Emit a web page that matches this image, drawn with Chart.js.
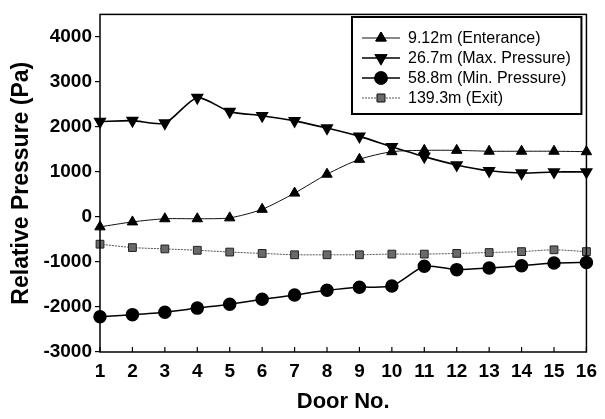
<!DOCTYPE html>
<html lang="en">
<head>
    <meta charset="UTF-8">
    <title>Relative Pressure by Door</title>
    <script src="https://cdn.jsdelivr.net/npm/chart.js"></script>
    <style>
        body {
            margin: 0;
            padding: 0;
            background: #fff;
        }
        .chart-container {
            width: 605px;
            height: 419px;
            position: relative;
        }
    </style>
</head>
<body>
    <div class="chart-container">
        <canvas id="pressureChart"></canvas>
    </div>

    <script>
        // Door numbers on the x axis
        const doors = ['1', '2', '3', '4', '5', '6', '7', '8', '9', '10', '11', '12', '13', '14', '15', '16'];

        // Relative pressure (Pa)
        const entrance = [-220, -110, -40, -40, -20, 170, 530, 950, 1280, 1450, 1480, 1480, 1460, 1460, 1460, 1450];
        const maxPressure = [2120, 2140, 2085, 2650, 2340, 2250, 2135, 1975, 1790, 1560, 1340, 1155, 1025, 975, 1000, 1000];
        const minPressure = [-2215, -2170, -2115, -2025, -1940, -1830, -1735, -1630, -1560, -1535, -1095, -1170, -1135, -1085, -1025, -1010];
        const exitPressure = [-605, -680, -710, -740, -780, -810, -840, -840, -840, -825, -825, -810, -790, -770, -730, -770];

        const seriesLabels = ['9.12m (Enterance)', '26.7m (Max. Pressure)', '58.8m (Min. Pressure)', '139.3m (Exit)'];
        const yTickValues = [-3000, -2000, -1000, 0, 1000, 2000, 3000, 4000];

        const fontFamily = '"Liberation Sans", Arial, sans-serif';

        // Frame around the plot, inward x ticks and the boxed legend
        const framePlugin = {
            id: 'frame',
            afterDraw(chart) {
                const ctx = chart.ctx;
                const area = chart.chartArea;
                const xScale = chart.scales.x;

                ctx.save();
                ctx.strokeStyle = '#000';
                ctx.lineWidth = 1.5;
                ctx.strokeRect(area.left, area.top, area.right - area.left, area.bottom - area.top);

                // x ticks pointing up into the plot
                ctx.lineWidth = 1.2;
                doors.forEach((d, i) => {
                    const x = xScale.getPixelForValue(i);
                    ctx.beginPath();
                    ctx.moveTo(x, area.bottom);
                    ctx.lineTo(x, area.bottom - 5);
                    ctx.stroke();
                });

                // legend
                const boxLeft = 352, boxTop = 17, boxRight = area.right - 5, boxBottom = 114;
                ctx.lineWidth = 2;
                ctx.strokeRect(boxLeft, boxTop, boxRight - boxLeft, boxBottom - boxTop);

                chart.data.datasets.forEach((ds, i) => {
                    const y = 38 + i * 20;
                    ctx.strokeStyle = ds.borderColor;
                    ctx.lineWidth = ds.borderWidth;
                    ctx.setLineDash(ds.borderDash || []);
                    ctx.beginPath();
                    ctx.moveTo(362, y);
                    ctx.lineTo(400, y);
                    ctx.stroke();
                    ctx.setLineDash([]);

                    Chart.helpers.drawPoint(ctx, {
                        pointStyle: ds.pointStyle,
                        rotation: ds.pointRotation || 0,
                        radius: ds.pointRadius,
                        borderWidth: 1
                    }, 381, y);
                    ctx.fillStyle = ds.pointBackgroundColor;
                    ctx.strokeStyle = ds.pointBorderColor;
                    ctx.fill();
                    ctx.stroke();

                    ctx.fillStyle = '#000';
                    ctx.font = '16px ' + fontFamily;
                    ctx.textBaseline = 'middle';
                    ctx.textAlign = 'left';
                    ctx.fillText(ds.label, 408, y + 1);
                });
                ctx.restore();
            }
        };

        const ctx = document.getElementById('pressureChart').getContext('2d');
        const pressureChart = new Chart(ctx, {
            type: 'line',
            data: {
                labels: doors,
                datasets: [
                    {
                        label: seriesLabels[0],
                        data: entrance,
                        borderColor: '#111',
                        borderWidth: 1,
                        pointStyle: 'triangle',
                        pointRadius: 6,
                        pointBackgroundColor: '#000',
                        pointBorderColor: '#000',
                        tension: 0.25
                    },
                    {
                        label: seriesLabels[1],
                        data: maxPressure,
                        borderColor: '#000',
                        borderWidth: 1.6,
                        pointStyle: 'triangle',
                        pointRotation: 180,
                        pointRadius: 6,
                        pointBackgroundColor: '#000',
                        pointBorderColor: '#000',
                        tension: 0.25
                    },
                    {
                        label: seriesLabels[2],
                        data: minPressure,
                        borderColor: '#000',
                        borderWidth: 1.5,
                        pointStyle: 'circle',
                        pointRadius: 6,
                        pointBackgroundColor: '#000',
                        pointBorderColor: '#000',
                        tension: 0.2
                    },
                    {
                        label: seriesLabels[3],
                        data: exitPressure,
                        borderColor: '#555',
                        borderWidth: 1,
                        borderDash: [2, 1],
                        pointStyle: 'rect',
                        pointRadius: 5.5,
                        pointBackgroundColor: '#6a6a6a',
                        pointBorderColor: '#222',
                        tension: 0.25
                    }
                ]
            },
            options: {
                responsive: true,
                maintainAspectRatio: false,
                animation: false,
                layout: {
                    padding: { top: 10, right: 11, left: 0, bottom: 0 }
                },
                plugins: {
                    legend: { display: false },
                    tooltip: { enabled: false }
                },
                scales: {
                    x: {
                        type: 'category',
                        offset: false,
                        border: { display: false },
                        grid: { display: false, drawTicks: false },
                        ticks: {
                            color: '#000',
                            padding: 8,
                            maxRotation: 0,
                            autoSkip: false,
                            font: { family: fontFamily, size: 19, weight: 'bold' }
                        },
                        title: {
                            display: true,
                            text: 'Door No.',
                            color: '#000',
                            padding: { top: 10 },
                            font: { family: fontFamily, size: 22, weight: 'bold' }
                        },
                        afterFit(scale) { scale.height = 67; }
                    },
                    y: {
                        min: -3000,
                        max: 4500,
                        border: { display: false },
                        grid: {
                            drawOnChartArea: false,
                            drawTicks: true,
                            tickLength: 5,
                            color: '#000',
                            lineWidth: 1.2
                        },
                        afterBuildTicks(scale) {
                            scale.ticks = yTickValues.map(v => ({ value: v }));
                        },
                        ticks: {
                            color: '#000',
                            padding: 3,
                            callback: (value) => String(value),
                            font: { family: fontFamily, size: 19, weight: 'bold' }
                        },
                        title: {
                            display: true,
                            text: 'Relative Pressure (Pa)',
                            color: '#000',
                            padding: { top: 8, bottom: 0 },
                            font: { family: fontFamily, size: 23, weight: 'bold' }
                        },
                        afterFit(scale) { scale.width = 100; }
                    }
                }
            },
            plugins: [framePlugin]
        });
    </script>
</body>
</html>
